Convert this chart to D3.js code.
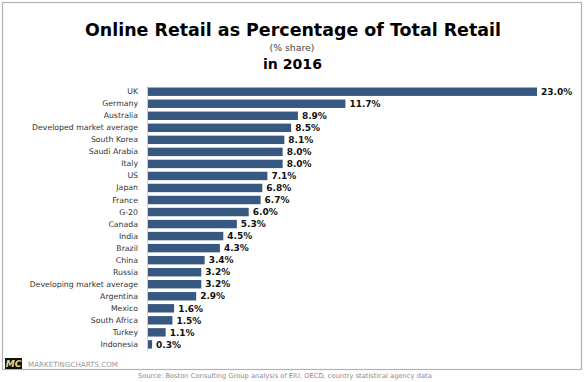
<!DOCTYPE html>
<html><head><meta charset="utf-8">
<script src="https://cdn.jsdelivr.net/npm/d3@7"></script>
<style>html,body{margin:0;padding:0;background:#fff;}</style>
</head><body>
<svg id="c" width="585" height="382"></svg>
<script>
const categories = ["UK","Germany","Australia","Developed market average","South Korea","Saudi Arabia","Italy","US","Japan","France","G-20","Canada","India","Brazil","China","Russia","Developing market average","Argentina","Mexico","South Africa","Turkey","Indonesia"];
const values = [23.0,11.7,8.9,8.5,8.1,8.0,8.0,7.1,6.8,6.7,6.0,5.3,4.5,4.3,3.4,3.2,3.2,2.9,1.6,1.5,1.1,0.3];
const valueLabels = values.map(v => v.toFixed(1) + "%");
const titleText = "Online Retail as Percentage of Total Retail";
const subtitleText = "(% share)";
const yearText = "in 2016";
const sourceText = "Source: Boston Consulting Group analysis of EIU, OECD, country statistical agency data";

const svg = d3.select("#c");
const font = "DejaVu Sans, Verdana, sans-serif";

function fit(sel, w){
  const cur = parseFloat(sel.attr("font-size"));
  const len = sel.node().getComputedTextLength();
  sel.attr("font-size", (cur * w / len).toFixed(2));
}

svg.append("rect").attr("x",2.5).attr("y",2.5).attr("width",579).attr("height",367)
  .attr("fill","#fff").attr("stroke","#b3b3b3").attr("stroke-width",1.2);

const t1 = svg.append("text").attr("x",293).attr("y",36).attr("text-anchor","middle")
  .attr("font-family",font).attr("font-weight","bold").attr("font-size",18).attr("fill","#000").text(titleText);
fit(t1, 416);
const t2 = svg.append("text").attr("x",292).attr("y",51).attr("text-anchor","middle")
  .attr("font-family",font).attr("font-size",9).attr("fill","#444").text(subtitleText);
fit(t2, 45);
const t3 = svg.append("text").attr("x",292.5).attr("y",69).attr("text-anchor","middle")
  .attr("font-family",font).attr("font-weight","bold").attr("font-size",14).attr("fill","#000").text(yearText);
fit(t3, 59);

const x = d3.scaleLinear().domain([0, 23]).range([147, 537]);
const y = d3.scaleBand().domain(categories).range([85.7, 350.4]).paddingInner(0.3).paddingOuter(0.15);

const g = svg.append("g");
g.selectAll("rect.bar").data(values).join("rect").attr("class","bar")
  .attr("x", x(0)).attr("y", (d,i) => y(categories[i]))
  .attr("width", d => x(d) - x(0)).attr("height", y.bandwidth())
  .attr("fill", "#375981");

g.selectAll("text.val").data(values).join("text").attr("class","val")
  .attr("x", d => x(d) + 4).attr("y", (d,i) => y(categories[i]) + y.bandwidth()/2)
  .attr("dy","0.36em").attr("font-family",font).attr("font-weight","bold").attr("font-size",9)
  .attr("fill","#111").text((d,i) => valueLabels[i]);

const axis = svg.append("g").attr("transform", `translate(${x(0)},0)`)
  .call(d3.axisLeft(y).tickSize(0).tickPadding(9).tickSizeOuter(0));
axis.select(".domain").attr("stroke","#cfcfcf");
const labels = axis.selectAll("text").attr("font-family",font).attr("font-size",8.2).attr("fill","#333");
const ref = labels.filter(d => d === "Developed market average").node();
const fs = 8.2 * 106 / ref.getComputedTextLength();
labels.attr("font-size", fs.toFixed(2));

// footer
svg.append("rect").attr("x",5).attr("y",358).attr("width",17).attr("height",11).attr("fill","#111");
svg.append("text").attr("x",13.5).attr("y",367).attr("text-anchor","middle").attr("font-family",font)
  .attr("font-weight","bold").attr("font-style","italic").attr("font-size",9).attr("fill","#e9dc8a").text("MC");
const mk = svg.append("text").attr("x",28).attr("y",367).attr("font-family",font).attr("font-size",8)
  .attr("fill","#9a9a9a").text("MARKETINGCHARTS.COM");
fit(mk, 90);
const src = svg.append("text").attr("x",138).attr("y",378).attr("font-family",font).attr("font-size",7)
  .attr("fill","#8a8a8a").text(sourceText);
fit(src, 294);
</script>
</body></html>
